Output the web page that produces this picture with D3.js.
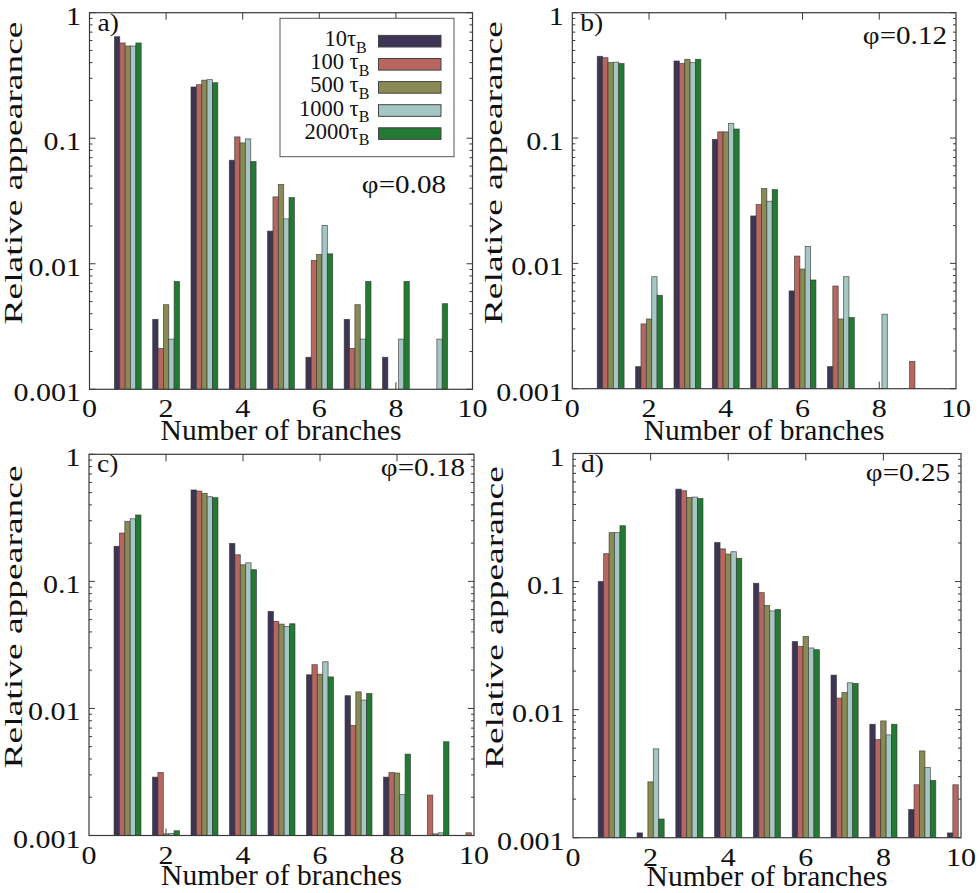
<!DOCTYPE html>
<html><head><meta charset="utf-8">
<script src="https://cdn.jsdelivr.net/npm/d3@7"></script>
<style>
body{margin:0;background:#fff}
svg{display:block}
text{font-family:"Liberation Serif","Times New Roman",Times,serif;fill:#111}
</style>
</head><body>
<svg id="chart" width="980" height="893"></svg>
<script>
// ---------------- DATA ----------------
const categories = [1, 2, 3, 4, 5, 6, 7, 8, 9, 10];
const seriesNames = ["10", "100", "500", "1000", "2000"];
const legendSpace = ["", " ", " ", " ", ""];
const seriesColors = ["#3e3454", "#b86660", "#8a8a55", "#a5c7c4", "#237a33"];
const xTicks = [0, 2, 4, 6, 8, 10];
const yTicks = [1, 0.1, 0.01, 0.001];
const yTickLabels = ["1", "0.1", "0.01", "0.001"];
const panelLetters = ["a)", "b)", "c)", "d)"];
const phiLabels = ["\u03c6=0.08", "\u03c6=0.12", "\u03c6=0.18", "\u03c6=0.25"];
const xTitle = "Number of branches";
const yTitle = "Relative appearance";

// panel a (phi = 0.08)
const a10   = [0.644, 0.00361, 0.256, 0.0668, 0.0182, 0.0018, 0.00361, 0.0018, null, null];
const a100  = [0.574, 0.00212, 0.267, 0.1025, 0.0341, 0.01063, 0.00212, null, null, null];
const a500  = [0.543, 0.00472, 0.290, 0.0918, 0.0428, 0.01187, 0.00472, null, null, null];
const a1000 = [0.543, 0.00251, 0.293, 0.0988, 0.0228, 0.0202, 0.00251, 0.00251, 0.00251, null];
const a2000 = [0.574, 0.00724, 0.277, 0.0652, 0.0337, 0.0120, 0.00724, 0.00724, 0.00481, null];
// panel b (phi = 0.12)
const b10   = [0.449, 0.0015, 0.412, 0.0976, 0.0239, 0.00603, 0.0015, null, null, null];
const b100  = [0.438, 0.00329, 0.393, 0.112, 0.0295, 0.01143, 0.0066, null, 0.00165, null];
const b500  = [0.400, 0.0036, 0.425, 0.112, 0.0395, 0.00901, 0.0036, null, null, null];
const b1000 = [0.403, 0.00783, 0.400, 0.131, 0.0313, 0.01365, 0.00783, 0.00393, null, null];
const b2000 = [0.393, 0.00556, 0.425, 0.118, 0.0388, 0.00737, 0.0037, null, null, null];
// panel c (phi = 0.18)
const c10   = [0.189, 0.00288, 0.524, 0.199, 0.058, 0.0184, 0.0126, 0.00288, null, null];
const c100  = [0.240, 0.00313, 0.514, 0.162, 0.0484, 0.0221, 0.00735, 0.00313, 0.00208, 0.00105];
const c500  = [0.297, 0.00103, 0.493, 0.135, 0.0461, 0.0186, 0.0135, 0.0031, 0.00103, null];
const c1000 = [0.311, 0.00104, 0.464, 0.140, 0.0442, 0.0233, 0.01164, 0.0021, 0.00105, null];
const c2000 = [0.333, 0.00109, 0.456, 0.1236, 0.0464, 0.0177, 0.0131, 0.00437, 0.00547, null];
// panel d (phi = 0.25)
const d10   = [0.100, 0.00109, 0.527, 0.202, 0.097, 0.034, 0.0186, 0.00769, 0.00166, 0.00109];
const d100  = [0.165, null, 0.512, 0.180, 0.082, 0.0312, 0.0123, 0.00584, 0.00259, 0.00259];
const d500  = [0.241, 0.00273, 0.454, 0.164, 0.065, 0.0373, 0.0136, 0.00816, 0.00476, null];
const d1000 = [0.241, 0.00494, 0.457, 0.171, 0.059, 0.0303, 0.0162, 0.00635, 0.00353, null];
const d2000 = [0.273, 0.0014, 0.446, 0.152, 0.0605, 0.0294, 0.016, 0.00769, 0.0028, null];

const panelSeries = [
  [a10, a100, a500, a1000, a2000],
  [b10, b100, b500, b1000, b2000],
  [c10, c100, c500, c1000, c2000],
  [d10, d100, d500, d1000, d2000]
];

// ---------------- LAYOUT ----------------
const layouts = [
  {x0: 89.5, x1: 472.5, y0: 12.7, y1: 389.3, phiX: 446, phiY: 193, yLabX: 21.5, titleDy: 51},
  {x0: 572.3, x1: 956, y0: 12.7, y1: 388.7, phiX: 947, phiY: 44, yLabX: 502, titleDy: 51},
  {x0: 89, x1: 474, y0: 454.3, y1: 835.5, phiX: 465, phiY: 476, yLabX: 21.5, titleDy: 49.5},
  {x0: 573, x1: 961, y0: 453.5, y1: 837.7, phiX: 950, phiY: 481, yLabX: 502.5, titleDy: 48.3}
];
const barW = 0.14;
const frameColor = "#3a3a3a";

const svg = d3.select("#chart");
svg.append("rect").attr("width", 980).attr("height", 893).attr("fill", "#fff");

function stretchedText(g, x, y, str, anchor, sx, size) {
  return g.append("text")
    .attr("transform", `translate(${x},${y}) scale(${sx},1)`)
    .attr("text-anchor", anchor)
    .attr("font-size", size)
    .text(str);
}

layouts.forEach((L, p) => {
  const x = d3.scaleLinear().domain([0, 10]).range([L.x0, L.x1]);
  const y = d3.scaleLog().domain([0.001, 1]).range([L.y1, L.y0]);
  const g = svg.append("g");

  const cid = "clip" + p;
  svg.append("clipPath").attr("id", cid).append("rect")
    .attr("x", L.x0).attr("y", L.y0).attr("width", L.x1 - L.x0).attr("height", L.y1 - L.y0);

  // inward ticks, drawn first so bars cover them
  const tk = g.append("g").attr("stroke", frameColor).attr("stroke-width", 1);
  xTicks.slice(1, -1).forEach(t => {
    tk.append("line").attr("x1", x(t)).attr("x2", x(t)).attr("y1", L.y0).attr("y2", L.y0 + 7);
    tk.append("line").attr("x1", x(t)).attr("x2", x(t)).attr("y1", L.y1).attr("y2", L.y1 - 7);
  });
  const minor = [];
  [0.001, 0.01, 0.1].forEach(dec => { for (let m = 2; m <= 9; m++) minor.push(dec * m); });
  yTicks.forEach(t => {
    tk.append("line").attr("x1", L.x0).attr("x2", L.x0 + 6).attr("y1", y(t)).attr("y2", y(t));
    tk.append("line").attr("x1", L.x1).attr("x2", L.x1 - 6).attr("y1", y(t)).attr("y2", y(t));
  });
  minor.forEach(t => {
    tk.append("line").attr("x1", L.x0).attr("x2", L.x0 + 3).attr("y1", y(t)).attr("y2", y(t));
    tk.append("line").attr("x1", L.x1).attr("x2", L.x1 - 3).attr("y1", y(t)).attr("y2", y(t));
  });

  // bars
  const bars = [];
  panelSeries[p].forEach((vals, si) => {
    vals.forEach((v, ci) => {
      if (v != null) bars.push({c: categories[ci], s: si, v: v});
    });
  });
  g.append("g").attr("clip-path", `url(#${cid})`)
    .selectAll("rect").data(bars).join("rect")
    .attr("x", d => x(d.c - 2.5 * barW + d.s * barW))
    .attr("width", x(barW) - x(0))
    .attr("y", d => y(d.v))
    .attr("height", d => y(0.001) - y(d.v))
    .attr("fill", d => seriesColors[d.s])
    .attr("stroke", "#333")
    .attr("stroke-opacity", 0.75)
    .attr("stroke-width", 0.8);

  // frame
  g.append("rect").attr("x", L.x0).attr("y", L.y0)
    .attr("width", L.x1 - L.x0).attr("height", L.y1 - L.y0)
    .attr("fill", "none").attr("stroke", frameColor).attr("stroke-width", 1.2);

  // tick labels
  xTicks.forEach(t => stretchedText(g, x(t), L.y1 + 28, String(t), "middle", 1.2, 25));
  yTicks.forEach((t, i) => {
    const yy = Math.max(y(t) + 12, L.y0 + 5.5);
    stretchedText(g, L.x0 - 8.5, yy, yTickLabels[i], "end", 1.2, 25);
  });

  // axis titles
  g.append("text").attr("x", (L.x0 + L.x1) / 2).attr("y", L.y1 + L.titleDy)
    .attr("text-anchor", "middle").attr("font-size", 29.5).text(xTitle);
  g.append("text")
    .attr("transform", `translate(${L.yLabX},${(L.y0 + L.y1) / 2 - 28}) rotate(-90)`)
    .attr("text-anchor", "middle").attr("font-size", 25)
    .attr("textLength", 303).attr("lengthAdjust", "spacingAndGlyphs")
    .text(yTitle);

  // panel letter & phi
  stretchedText(g, L.x0 + 8, L.y0 + 18, panelLetters[p], "start", 1.1, 25);
  stretchedText(g, L.phiX, L.phiY, phiLabels[p], "end", 1.12, 26);

  // legend (panel a only)
  if (p === 0) {
    const lg = g.append("g");
    lg.append("rect").attr("x", 280).attr("y", 18.3).attr("width", 174).attr("height", 138.4)
      .attr("fill", "#fff").attr("stroke", "#555").attr("stroke-width", 1);
    seriesNames.forEach((s, i) => {
      const cy = 41.2 + i * 23.1;
      lg.append("rect").attr("x", 378.5).attr("y", cy - 5.8).attr("width", 62.5).attr("height", 11.6)
        .attr("fill", seriesColors[i]).attr("stroke", "#444").attr("stroke-width", 1);
      const t = lg.append("text").attr("x", i === 0 ? 366.7 : 369.3).attr("y", cy + 5)
        .attr("text-anchor", "end").attr("font-size", 22.5);
      t.append("tspan").text(s + legendSpace[i] + "\u03c4");
      t.append("tspan").attr("font-size", 16).attr("dy", 6.5).text("B");
    });
  }
});
</script>
</body></html>
